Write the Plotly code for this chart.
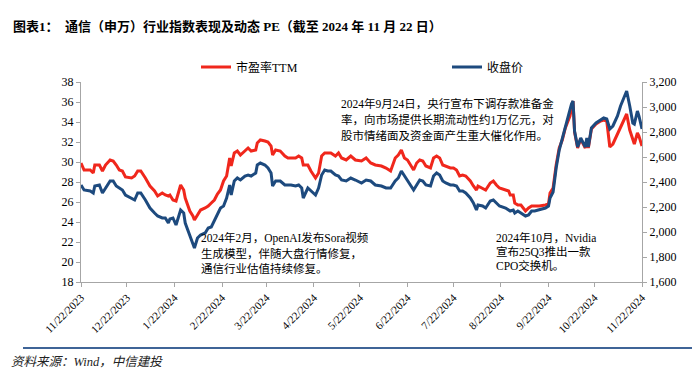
import plotly.graph_objects as go

# ---------------- data ----------------
dates = [
    "2023-11-22","2023-11-24","2023-11-28","2023-11-30","2023-12-01","2023-12-04","2023-12-06","2023-12-08",
    "2023-12-11","2023-12-13","2023-12-15","2023-12-17","2023-12-19","2023-12-21","2023-12-25","2023-12-27",
    "2023-12-29","2023-12-31","2024-01-03","2024-01-06","2024-01-09","2024-01-11","2024-01-14","2024-01-16",
    "2024-01-18","2024-01-19","2024-01-21","2024-01-23","2024-01-26","2024-01-28","2024-01-29","2024-02-01",
    "2024-02-03","2024-02-04","2024-02-06","2024-02-08","2024-02-11","2024-02-13","2024-02-15","2024-02-17",
    "2024-02-19","2024-02-21","2024-02-23","2024-02-25","2024-02-27","2024-02-28","2024-03-01","2024-03-03",
    "2024-03-05","2024-03-08","2024-03-10","2024-03-12","2024-03-15","2024-03-16","2024-03-18","2024-03-21",
    "2024-03-23","2024-03-25","2024-03-26","2024-03-28","2024-03-31","2024-04-03","2024-04-05","2024-04-07",
    "2024-04-10","2024-04-12","2024-04-14","2024-04-15","2024-04-18","2024-04-20","2024-04-23","2024-04-25",
    "2024-04-27","2024-04-29","2024-05-01","2024-05-03","2024-05-06","2024-05-08","2024-05-10","2024-05-13",
    "2024-05-16","2024-05-19","2024-05-23","2024-05-26","2024-05-29","2024-06-01","2024-06-05","2024-06-08",
    "2024-06-11","2024-06-14","2024-06-16","2024-06-18","2024-06-20","2024-06-22","2024-06-24","2024-06-26",
    "2024-06-28","2024-06-30","2024-07-02","2024-07-04","2024-07-07","2024-07-09","2024-07-11","2024-07-13",
    "2024-07-15","2024-07-17","2024-07-20","2024-07-22","2024-07-24","2024-07-26","2024-07-28","2024-07-30",
    "2024-08-02","2024-08-04","2024-08-06","2024-08-07","2024-08-10","2024-08-12","2024-08-15","2024-08-17",
    "2024-08-19","2024-08-21","2024-08-25","2024-08-27","2024-08-28","2024-08-30","2024-08-31","2024-09-02",
    "2024-09-04","2024-09-07","2024-09-09","2024-09-11","2024-09-13","2024-09-16","2024-09-20","2024-09-22",
    "2024-09-23","2024-09-25","2024-09-27","2024-09-29","2024-10-01","2024-10-03","2024-10-06","2024-10-07",
    "2024-10-08","2024-10-09","2024-10-11","2024-10-13","2024-10-16","2024-10-17","2024-10-18","2024-10-20",
    "2024-10-23","2024-10-26","2024-10-28","2024-10-30","2024-11-01","2024-11-03","2024-11-06","2024-11-08",
    "2024-11-10","2024-11-12","2024-11-14","2024-11-16","2024-11-17","2024-11-19","2024-11-20","2024-11-22",
]

pe_ttm = [
    29.9,29.2,29.2,28.9,29.7,29.7,29.1,29.7,30.2,30.1,29.7,29.2,29.1,28.5,28.4,28.6,
    29.1,29.1,28.4,27.6,27.1,26.6,26.9,26.7,26.6,26.7,26.2,26.1,27.7,27.2,26.4,25.1,
    24.6,24.2,24.7,25.2,25.4,25.6,25.9,26.2,26.8,27.2,28.1,28.6,30.4,29.6,30.9,31.1,
    30.7,31.1,31.4,31.1,31.2,31.9,32.2,32.1,32.0,31.6,30.7,31.2,31.1,30.6,30.4,30.4,
    30.4,30.6,30.4,29.7,29.7,29.1,28.4,28.9,30.6,30.9,30.9,30.9,30.6,30.9,30.4,30.2,
    30.6,30.2,30.1,30.4,29.9,29.7,29.6,29.4,29.1,30.4,30.7,31.2,30.4,30.2,29.7,29.2,
    29.9,30.2,30.1,29.6,29.4,30.4,30.6,30.4,29.7,29.6,29.4,29.4,29.2,28.6,28.7,28.6,
    28.1,27.6,27.2,27.6,27.4,27.2,27.9,28.1,27.7,27.4,27.2,27.1,26.7,26.7,25.9,25.7,
    25.7,25.1,25.4,25.6,25.6,25.6,25.7,25.8,26.9,27.4,29.7,31.4,32.2,33.4,34.6,35.4,
    36.1,33.0,31.4,32.3,31.4,32.2,31.4,33.3,33.8,34.1,34.2,34.1,31.5,31.8,32.8,33.4,
    34.1,34.8,33.2,32.2,31.8,32.9,32.6,31.6,
]

close_price = [
    2376,2336,2328,2312,2368,2376,2312,2352,2408,2408,2368,2352,2336,2296,2272,2256,
    2312,2312,2256,2192,2152,2128,2112,2112,2072,2104,2112,2056,2176,2152,2072,1976,
    1912,1872,1952,1976,1992,2032,2040,2088,2136,2192,2208,2272,2376,2296,2408,2432,
    2416,2448,2456,2448,2472,2536,2552,2536,2512,2472,2368,2408,2408,2376,2376,2376,
    2368,2376,2352,2272,2352,2328,2296,2352,2456,2496,2488,2488,2456,2448,2416,2408,
    2432,2416,2392,2416,2408,2376,2368,2352,2352,2408,2432,2488,2448,2416,2376,2336,
    2376,2416,2408,2376,2368,2448,2472,2456,2408,2392,2376,2376,2368,2328,2328,2312,
    2272,2232,2176,2216,2208,2192,2248,2256,2232,2208,2192,2176,2168,2176,2152,2168,
    2152,2128,2136,2168,2168,2176,2192,2208,2272,2320,2512,2656,2752,2856,2992,3024,
    3048,2808,2680,2752,2680,2752,2680,2832,2872,2896,2912,2904,2824,2848,2928,3008,
    3072,3128,3008,2872,2864,2968,2928,2824,
]

tick_dates = ["2023-11-22","2023-12-22","2024-01-22","2024-02-22","2024-03-22","2024-04-22",
              "2024-05-22","2024-06-22","2024-07-22","2024-08-22","2024-09-22","2024-10-22","2024-11-22"]
tick_labels = ["11/22/2023","12/22/2023","1/22/2024","2/22/2024","3/22/2024","4/22/2024",
               "5/22/2024","6/22/2024","7/22/2024","8/22/2024","9/22/2024","10/22/2024","11/22/2024"]

series_names = ["市盈率TTM", "收盘价"]
title_text = "图表1：  通信（申万）行业指数表现及动态 PE（截至 2024 年 11 月 22 日）"
source_text = "资料来源：Wind，中信建投"
note_sep_lines = ["2024年9月24日，央行宣布下调存款准备金",
                  "率，向市场提供长期流动性约1万亿元，对",
                  "股市情绪面及资金面产生重大催化作用。"]
note_feb_lines = ["2024年2月，OpenAI发布Sora视频",
                  "生成模型，伴随大盘行情修复，",
                  "通信行业估值持续修复。"]
note_oct_lines = ["2024年10月，Nvidia",
                  "宣布25Q3推出一款",
                  "CPO交换机。"]

# ---------------- styling ----------------
W, H = 700, 369
L, R, T, B = 73, 66, 74, 95
PW, PH = W - L - R, H - T - B
RED = "#F0271C"
BLUE = "#1D4A7E"
AXC = "#A6A6A6"
FONT = "Liberation Serif, Noto Sans CJK SC, serif"
XOFF = -8  # text placement correction for annotations

def px(x):
    return (x + XOFF - L) / PW

def py(y):
    return (H - B - y) / PH

fig = go.Figure()
fig.add_trace(go.Scatter(x=dates, y=pe_ttm, name=series_names[0], mode="lines",
                         line=dict(color=RED, width=3), yaxis="y"))
fig.add_trace(go.Scatter(x=dates, y=close_price, name=series_names[1], mode="lines",
                         line=dict(color=BLUE, width=3), yaxis="y2"))

fig.update_layout(
    width=W, height=H,
    margin=dict(l=L, r=R, t=T, b=B, autoexpand=False),
    paper_bgcolor="white", plot_bgcolor="white",
    font=dict(family=FONT, size=12, color="#000000"),
    title=dict(text=title_text, xref="container", yref="container",
               x=5 / W, y=1 - 18 / H, xanchor="left", yanchor="middle",
               font=dict(family="Liberation Serif, Noto Sans CJK SC", size=13,
                         color="#000000", weight="bold")),
    showlegend=True,
    legend=dict(orientation="h", xref="container", yref="container",
                x=188 / W, y=1 - 59 / H, xanchor="left", yanchor="middle",
                entrywidth=206, entrywidthmode="pixels",
                font=dict(family=FONT, size=12, color="#000000"),
                bgcolor="rgba(0,0,0,0)", traceorder="normal"),
    xaxis=dict(type="date", range=["2023-11-22", "2024-11-22"], automargin=False,
               tickmode="array", tickvals=tick_dates, ticktext=tick_labels,
               tickangle=-45, ticks="outside", ticklen=4, tickcolor=AXC,
               showline=True, linecolor=AXC, linewidth=1, showgrid=False, zeroline=False,
               tickfont=dict(family=FONT, size=11, color="#000000")),
    yaxis=dict(range=[18, 38], dtick=2, tick0=18, ticks="outside", ticklen=4, tickcolor=AXC,
               automargin=False,
               showline=True, linecolor=AXC, linewidth=1, showgrid=False, zeroline=False,
               tickfont=dict(family=FONT, size=12, color="#000000")),
    yaxis2=dict(range=[1600, 3200], dtick=200, tick0=1600, overlaying="y", side="right",
                automargin=False,
                tickformat=",", ticks="outside", ticklen=4, tickcolor=AXC,
                showline=True, linecolor=AXC, linewidth=1, showgrid=False, zeroline=False,
                tickfont=dict(family=FONT, size=12, color="#000000")),
)

annotations = [
    dict(text=source_text, x=(1 - L) / PW, y=py(354), xanchor="left", yanchor="middle",
         font=dict(family=FONT, size=12.5, color="#222222", style="italic")),
]
for lines, x0, ys, fs in [(note_sep_lines, 339, [95, 111, 127], 11.5),
                          (note_feb_lines, 199, [230, 245, 260], 11.5),
                          (note_oct_lines, 494, [229, 243, 257], 11.5)]:
    for line, yy in zip(lines, ys):
        annotations.append(dict(text=line, x=px(x0), y=py(yy), xanchor="left", yanchor="middle",
                                font=dict(family=FONT, size=fs, color="#000000")))
for a in annotations:
    a.update(xref="paper", yref="paper", showarrow=False)
fig.update_layout(annotations=annotations)

fig.add_shape(type="line", xref="paper", yref="paper",
              x0=(15 - L) / PW, x1=(690 - L) / PW, y0=py(340), y1=py(340),
              line=dict(color="#3F6497", width=2))

fig.write_html("out.html")
